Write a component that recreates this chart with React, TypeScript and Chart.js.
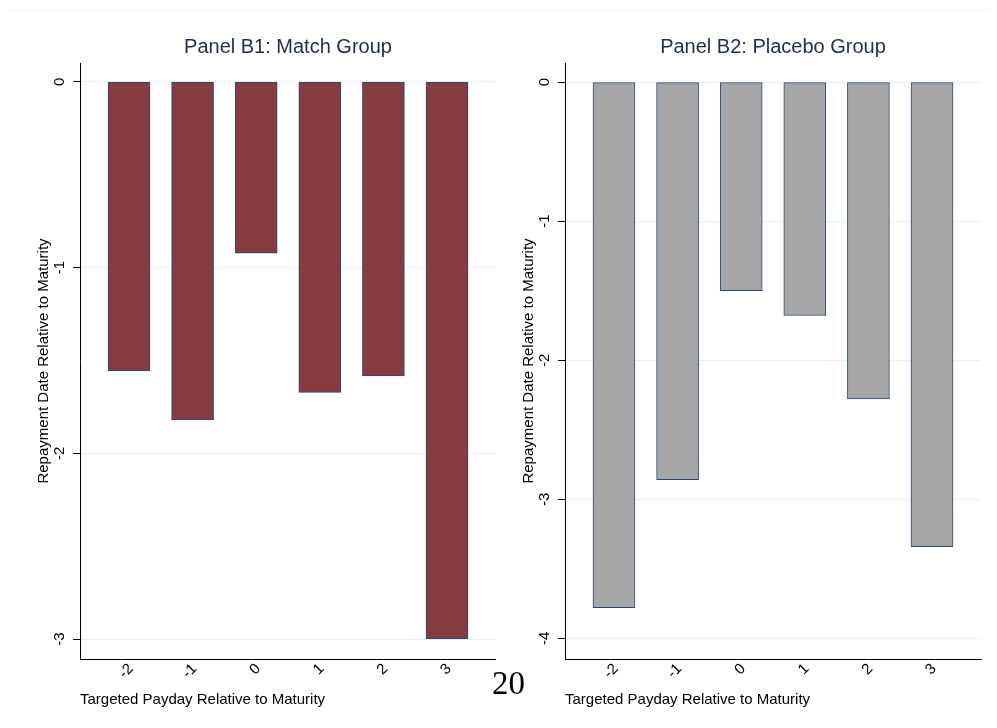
import React, { useEffect, useRef } from "react";
import { Chart, registerables } from "chart.js";

Chart.register(...registerables);

// ---- data ----
const paydays = [-2, -1, 0, 1, 2, 3];
const matchValues = [-1.555, -1.82, -0.922, -1.671, -1.583, -2.998];
const placeboValues = [-3.779, -2.859, -1.5, -1.677, -2.279, -3.341];
const matchYTicks = [0, -1, -2, -3];
const placeboYTicks = [0, -1, -2, -3, -4];

const matchTitle = "Panel B1: Match Group";
const placeboTitle = "Panel B2: Placebo Group";
const xTitle = "Targeted Payday Relative to Maturity";
const yTitle = "Repayment Date Relative to Maturity";

const FONT = "'Liberation Sans', Arial, Helvetica, sans-serif";
const CANVAS_H = 712;

type PanelSpec = {
  title: string;
  values: number[];
  yTicks: number[];
  yMin: number;
  yMax: number;
  fill: string;
  left: number;
  width: number;
  yAxisWidth: number;
  yTitlePad: number;
  rightPad: number;
};

function makeConfig(p: PanelSpec): any {
  return {
    type: "bar",
    data: {
      datasets: [
        {
          data: paydays.map((x, i) => ({ x, y: p.values[i] })),
          backgroundColor: p.fill,
          borderColor: "#2a4a70",
          borderWidth: 1,
          borderSkipped: false,
          barThickness: 42,
        },
      ],
    },
    options: {
      responsive: false,
      animation: false,
      devicePixelRatio: 1,
      layout: { padding: { left: 0, right: p.rightPad, top: 0, bottom: 0 } },
      plugins: {
        legend: { display: false },
        tooltip: { enabled: false },
        title: {
          display: true,
          text: p.title,
          fullSize: false,
          color: "#1f2d4f",
          font: { family: FONT, size: 20, weight: "normal" },
          padding: { top: 27, bottom: 4 },
        },
      },
      scales: {
        x: {
          type: "linear",
          offset: false,
          min: -2.77,
          max: 3.77,
          bounds: "data",
          afterBuildTicks: (s: any) => {
            s.ticks = paydays.map((v) => ({ value: v }));
          },
          afterFit: (s: any) => {
            s.height = 61;
          },
          grid: { display: false, drawTicks: false, tickLength: 0 },
          border: { display: true, color: "#000", width: 1 },
          ticks: {
            autoSkip: false,
            minRotation: 45,
            maxRotation: 45,
            color: "#000",
            font: { family: FONT, size: 15 },
            padding: 1,
            labelOffset: 2,
            callback: (v: any) => String(v),
          },
          title: {
            display: true,
            text: xTitle,
            align: "start",
            color: "#000",
            font: { family: FONT, size: 15 },
            padding: { top: 0, bottom: 11 },
          },
        },
        y: {
          type: "linear",
          min: p.yMin,
          max: p.yMax,
          bounds: "data",
          afterBuildTicks: (s: any) => {
            s.ticks = p.yTicks.map((v) => ({ value: v }));
          },
          afterFit: (s: any) => {
            s.width = p.yAxisWidth;
          },
          grid: {
            color: "#e6eff1",
            lineWidth: 1,
            drawTicks: true,
            tickLength: 7,
            tickColor: "#000",
            tickWidth: 1,
          },
          border: { display: true, color: "#000", width: 1 },
          ticks: {
            autoSkip: false,
            minRotation: 90,
            maxRotation: 90,
            crossAlign: "center",
            padding: 6,
            color: "#000",
            font: { family: FONT, size: 15 },
            callback: (v: any) => String(v),
          },
          title: {
            display: true,
            text: yTitle,
            color: "#000",
            font: { family: FONT, size: 15 },
            padding: { top: p.yTitlePad, bottom: 0 },
          },
        },
      },
    },
  };
}

function Panel({ spec }: { spec: PanelSpec }) {
  const ref = useRef<HTMLCanvasElement>(null);
  useEffect(() => {
    const chart = new Chart(ref.current as HTMLCanvasElement, makeConfig(spec));
    return () => chart.destroy();
  }, []);
  return (
    <canvas
      ref={ref}
      width={spec.width}
      height={CANVAS_H}
      style={{
        position: "absolute",
        left: spec.left,
        top: 0,
        width: spec.width,
        height: CANVAS_H,
      }}
    />
  );
}

const leftSpec: PanelSpec = {
  title: matchTitle,
  values: matchValues,
  yTicks: matchYTicks,
  yMin: -3.107,
  yMax: 0.102,
  fill: "#853b3f",
  left: 0,
  width: 488,
  yAxisWidth: 72,
  yTitlePad: 27,
  rightPad: 0,
};

const rightSpec: PanelSpec = {
  title: placeboTitle,
  values: placeboValues,
  yTicks: placeboYTicks,
  yMin: -4.148,
  yMax: 0.137,
  fill: "#a7a7a7",
  left: 489,
  width: 492,
  yAxisWidth: 68,
  yTitlePad: 23,
  rightPad: 8,
};

export default function App() {
  return (
    <div style={{ position: "relative", width: 981, height: CANVAS_H }}>
      <div
        style={{
          position: "absolute",
          left: -1,
          top: 1,
          width: 982,
          height: 708,
          borderTop: "1px solid #efefef",
          borderLeft: "1px solid #efefef",
          boxSizing: "border-box",
        }}
      />
      <Panel spec={leftSpec} />
      <Panel spec={rightSpec} />
      <span
        style={{
          position: "absolute",
          left: 484,
          top: 659,
          fontFamily: "'Liberation Serif', 'Times New Roman', serif",
          fontSize: 33,
          lineHeight: 1,
          color: "#000",
        }}
      >
        20
      </span>
    </div>
  );
}
